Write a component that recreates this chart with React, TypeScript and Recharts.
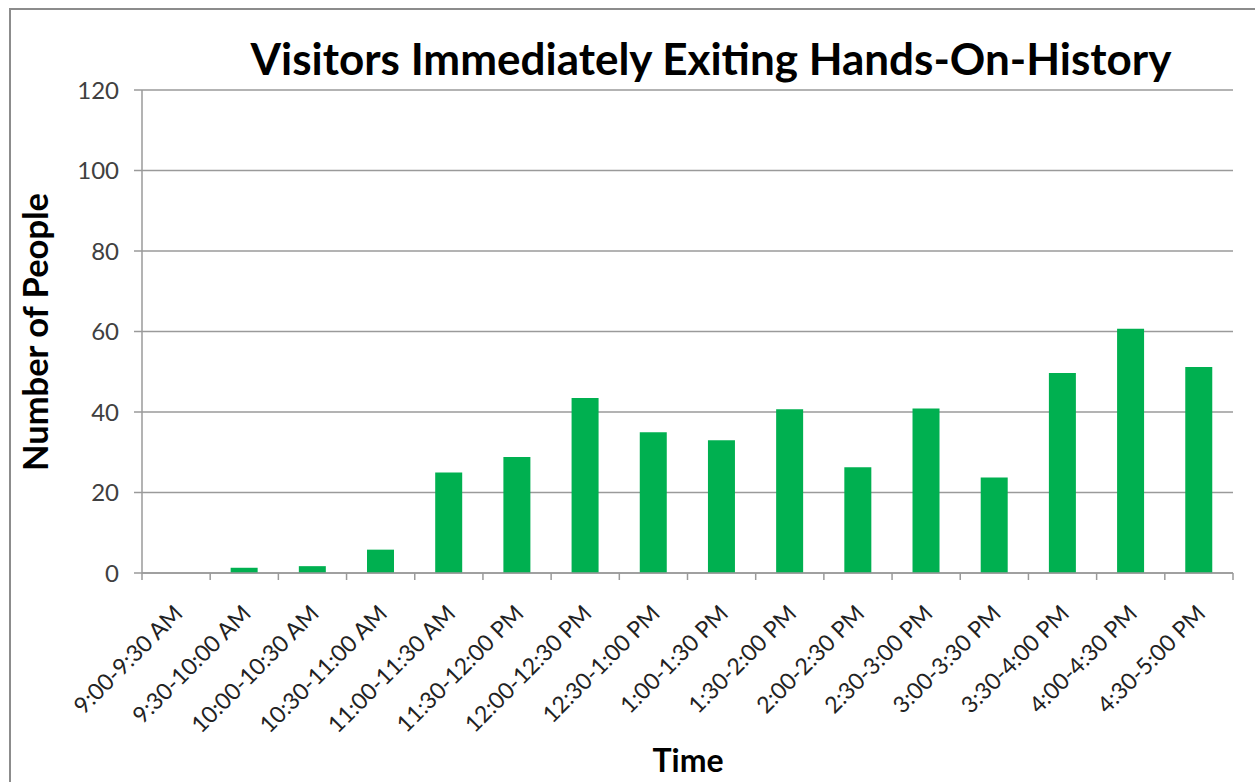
import { BarChart, Bar, XAxis, YAxis, CartesianGrid } from 'recharts'

const timeSlots = [
  '9:00-9:30 AM',
  '9:30-10:00 AM',
  '10:00-10:30 AM',
  '10:30-11:00 AM',
  '11:00-11:30 AM',
  '11:30-12:00 PM',
  '12:00-12:30 PM',
  '12:30-1:00 PM',
  '1:00-1:30 PM',
  '1:30-2:00 PM',
  '2:00-2:30 PM',
  '2:30-3:00 PM',
  '3:00-3:30 PM',
  '3:30-4:00 PM',
  '4:00-4:30 PM',
  '4:30-5:00 PM',
]
const visitorsExiting = [0, 1.3, 1.7, 5.8, 25, 28.8, 43.5, 35, 33, 40.7, 26.3, 40.9, 23.7, 49.7, 60.7, 51.2]
const yTicks = [0, 20, 40, 60, 80, 100, 120]

const data = timeSlots.map((slot, i) => ({ slot, people: visitorsExiting[i] }))

const FONT = 'Lato, "Open Sans", sans-serif'
const AXIS_GRAY = '#9a9a9a'

function TimeTick(props: any) {
  const { x, y, payload, index } = props
  const half = payload.offset || 34
  return (
    <g>
      <line x1={x - half} x2={x - half} y1={y} y2={y + 7} stroke={AXIS_GRAY} strokeWidth={1.5} />
      {index === timeSlots.length - 1 && (
        <line x1={x + half} x2={x + half} y1={y} y2={y + 7} stroke={AXIS_GRAY} strokeWidth={1.5} />
      )}
      <text
        transform={`translate(${x + 8},${y + 42}) rotate(-45)`}
        textAnchor="end"
        fontFamily={FONT}
        fontSize={23}
        fill="#222"
      >
        {payload.value}
      </text>
    </g>
  )
}

export default function App() {
  return (
    <div style={{ position: 'relative', width: 1255, height: 782, overflow: 'hidden', fontFamily: FONT, background: '#fff' }}>
      <style>{'body { margin: 0; }'}</style>
      <div
        style={{
          position: 'absolute',
          left: 9,
          top: 8,
          width: 1300,
          height: 820,
          border: '2px solid #8c8c8c',
        }}
      />
      <BarChart
        width={1255}
        height={782}
        data={data}
        margin={{ top: 90, right: 22, left: 0, bottom: 0 }}
        barCategoryGap="30%"
      >
        <CartesianGrid vertical={false} stroke={AXIS_GRAY} strokeWidth={1.5} />
        <XAxis
          dataKey="slot"
          height={209}
          interval={0}
          tickLine={false}
          tickSize={0}
          tickMargin={0}
          axisLine={{ stroke: AXIS_GRAY, strokeWidth: 1.5 }}
          tick={<TimeTick />}
        />
        <YAxis
          width={142}
          domain={[0, 120]}
          ticks={yTicks}
          interval={0}
          tickSize={8}
          tickMargin={15}
          tickLine={{ stroke: AXIS_GRAY, strokeWidth: 1.5 }}
          axisLine={{ stroke: AXIS_GRAY, strokeWidth: 1.5 }}
          tick={{ fill: '#404040', fontSize: 24, fontFamily: FONT }}
        />
        <Bar dataKey="people" fill="#00b050" isAnimationActive={false} />
        <text x={711} y={75} textAnchor="middle" fontFamily={FONT} fontSize={44} fontWeight={700} fill="#000">
          Visitors Immediately Exiting Hands-On-History
        </text>
        <text
          transform="translate(48,332) rotate(-90)"
          textAnchor="middle"
          fontFamily={FONT}
          fontSize={34.5}
          fontWeight={700}
          fill="#000"
        >
          Number of People
        </text>
        <text x={688} y={772} textAnchor="middle" fontFamily={FONT} fontSize={32} fontWeight={700} fill="#000">
          Time
        </text>
      </BarChart>
    </div>
  )
}
